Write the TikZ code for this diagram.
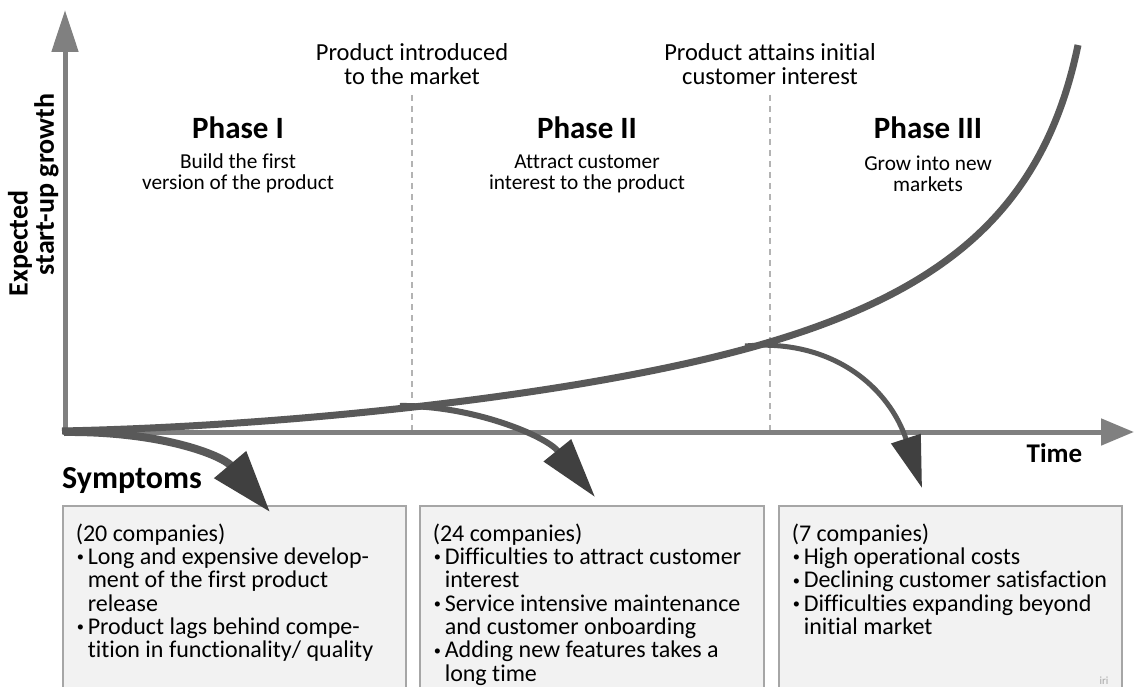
\documentclass[tikz,border=0pt]{standalone}
\usepackage{fontspec}
\setmainfont{Carlito}[Ligatures={TeX,NoCommon}]
\usetikzlibrary{arrows.meta}
\definecolor{axisgray}{HTML}{808080}
\definecolor{curvegray}{HTML}{595959}
\definecolor{tipgray}{HTML}{404040}
\definecolor{dashgray}{HTML}{B3B3B3}
\definecolor{boxfill}{HTML}{F2F2F2}
\definecolor{boxline}{HTML}{A6A6A6}
\definecolor{irigray}{HTML}{A6A6A6}
\newcommand{\bul}[1]{\mbox{\makebox[12pt][l]{\hspace{1pt}\raisebox{2.8pt}{\scalebox{0.6}{•}}}#1}}
\newcommand{\cnt}[1]{\mbox{\hspace*{12pt}#1}}
\begin{document}
\begin{tikzpicture}[x=1pt,y=-1pt, inner sep=0pt,
 axisline/.style={draw=axisgray, line width=5pt},
 growth/.style={draw=curvegray, line width=7pt},
 branch/.style={draw=curvegray},
 milestone/.style={draw=dashgray, line width=1.5pt, dash pattern=on 6pt off 5pt},
 toplabel/.style={align=center, font=\fontsize{24.5}{24}\selectfont},
 phasetitle/.style={font=\fontsize{31}{31}\selectfont\bfseries},
 phasesub/.style={align=center, font=\fontsize{21.3}{21}\selectfont},
 symbox/.style={draw=boxline, fill=boxfill, line width=1.5pt, anchor=north west, inner xsep=13pt, inner ysep=18pt, font=\fontsize{24}{23.3}\selectfont},
 axislabel/.style={font=\fontsize{28}{28}\selectfont\bfseries}
]
\useasboundingbox (0,0) rectangle (1135,687);
\clip (0,0) rectangle (1135,687);

% coordinates
\coordinate (O) at (64,432);
\coordinate (ybot) at (65,434.5);
\coordinate (ytip) at (65,10);
\coordinate (xleft) at (62.5,432);
\coordinate (xtip) at (1134,432);
\coordinate (m1top) at (412,95);
\coordinate (m1bot) at (412,432);
\coordinate (m2top) at (770,95);
\coordinate (m2bot) at (770,432);
\coordinate (gstart) at (62,431);
\coordinate (gmid) at (770,342);
\coordinate (gend) at (1078,45);
\coordinate (b1tip) at (270,512);
\coordinate (b2start) at (400,406);
\coordinate (b2tip) at (595,497);
\coordinate (b3start) at (745,346);
\coordinate (b3tip) at (922,488);

% boxes
\node[symbox] (box1) at (62,505) {\parbox[t][180pt][t]{317pt}{%
\mbox{(20 companies)}\\
\bul{Long and expensive develop-}\\
\cnt{ment of the first product}\\
\cnt{release}\\
\bul{Product lags behind compe-}\\
\cnt{tition in functionality/ quality}}};
\node[symbox] (box2) at (419,505) {\parbox[t][180pt][t]{318pt}{%
\mbox{(24 companies)}\\
\bul{Difficulties to attract customer}\\
\cnt{interest}\\
\bul{Service intensive maintenance}\\
\cnt{and customer onboarding}\\
\bul{Adding new features takes a}\\
\cnt{long time}}};
\node[symbox] (box3) at (778,505) {\parbox[t][180pt][t]{317pt}{%
\mbox{(7 companies)}\\
\bul{High operational costs}\\
\bul{Declining customer satisfaction}\\
\bul{Difficulties expanding beyond}\\
\cnt{initial market}}};
\node[font=\fontsize{11}{11}\selectfont, text=irigray, anchor=base] (iri) at (1104,684) {iri};

% milestones
\draw[milestone] (m1top) -- (m1bot);
\draw[milestone] (m2top) -- (m2bot);

% axes
\draw[axisline, -{Triangle[length=42pt,width=26pt]}] (ybot) -- (ytip);
\draw[axisline, -{Triangle[length=33pt,width=26pt]}] (xleft) -- (xtip);

% growth curve
\draw[growth] (gstart) .. controls (300,426) and (600,393) .. (gmid)
  .. controls (950,288) and (1045,205) .. (gend);

% branches
\draw[branch, line width=8pt, -{Triangle[length=62pt,width=40pt,color=tipgray]}] (O) .. controls (160,431) and (222,455) .. (b1tip);
\draw[branch, line width=6pt, -{Triangle[length=60pt,width=34pt,color=tipgray]}] (b2start) .. controls (470,405) and (545,435) .. (b2tip);
\draw[branch, line width=5pt, -{Triangle[length=52pt,width=30pt,color=tipgray]}] (b3start) .. controls (835,338) and (890,390) .. (b3tip);

% labels
\node[toplabel] (intro) at (412,64.5) {Product introduced\\to the market};
\node[toplabel] (attain) at (770,64.5) {Product attains initial\\customer interest};
\node[phasetitle] (p1) at (238,128) {Phase I};
\node[phasetitle] (p2) at (587,128) {Phase II};
\node[phasetitle] (p3) at (928,128) {Phase III};
\node[phasesub] (s1) at (238,173.5) {Build the first\\version of the product};
\node[phasesub] (s2) at (587,173.5) {Attract customer\\interest to the product};
\node[phasesub] (s3) at (928,173.5) {Grow into new\\markets};
\node[axislabel, rotate=90] (ylab1) at (20,243.5) {Expected};
\node[axislabel, rotate=90] (ylab2) at (46.5,184.5) {start-up growth};
\node[font=\fontsize{27}{27}\selectfont\bfseries] (time) at (1054.5,453) {Time};
\node[font=\fontsize{32}{32}\selectfont\bfseries, anchor=west] (symp) at (62,481) {Symptoms};
\end{tikzpicture}
\end{document}
